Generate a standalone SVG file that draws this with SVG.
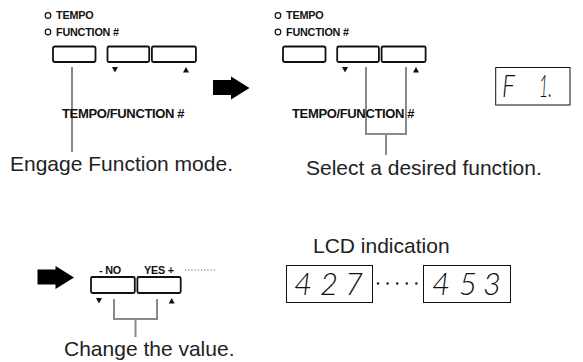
<svg xmlns="http://www.w3.org/2000/svg" width="583" height="362" viewBox="0 0 583 362">
<style>
.lbl{font-family:"Liberation Sans",Arial,sans-serif;font-weight:bold;font-size:10.8px;fill:#111;letter-spacing:-0.2px}
.big{font-family:"Liberation Sans",Arial,sans-serif;font-weight:bold;font-size:13px;fill:#111;letter-spacing:-0.35px}
.cap{font-family:"Liberation Sans",Arial,sans-serif;font-size:21px;fill:#222}
.btn{fill:#fff;stroke:#111;stroke-width:1.8}
.led{fill:#fff;stroke:#111;stroke-width:1.2}
.lcd{fill:#fff;stroke:#111;stroke-width:1}
.seg{font-family:Lato,"Liberation Sans",sans-serif;font-style:italic;font-weight:300;font-size:31px;fill:#111}
.conn{fill:none;stroke:#8a8a8a;stroke-width:2}
.tri{fill:#111}
.arrow{fill:#000}
.dots{fill:none;stroke:#222;stroke-linecap:round}
</style>
<defs>
<path id="bigArrow" d="M0,3.5 H18 V0 L36.5,11.5 L18,23 V18.5 H0 Z"/>
</defs>

<g id="connectors">
  <path class="conn" d="M72,67 V152"/>
  <path class="conn" d="M366,67 V134 H406 V67 M386,134 V155"/>
  <path class="conn" d="M114,299 V319 H157 V299 M135.5,319 V337"/>
  <use href="#bigArrow" class="arrow" x="213" y="76.5"/>
  <use href="#bigArrow" class="arrow" x="37.5" y="266"/>
</g>

<g id="step1-panel">
  <circle class="led" cx="48" cy="15.5" r="2.8"/>
  <text class="lbl" x="56" y="19">TEMPO</text>
  <circle class="led" cx="48" cy="32" r="2.8"/>
  <text class="lbl" x="56" y="35.5">FUNCTION #</text>
  <rect class="btn" x="53" y="46.5" width="42.5" height="15.5" rx="2"/>
  <rect class="btn" x="107.5" y="46.5" width="41.7" height="15.5" rx="1.5"/>
  <rect class="btn" x="151.9" y="46.5" width="44" height="15.5" rx="1.5"/>
  <polygon class="tri" points="112,67 118,67 115,72.5"/>
  <polygon class="tri" points="183,72.5 189,72.5 186,67"/>
  <text class="big" x="62" y="118">TEMPO/FUNCTION #</text>
  <text class="cap" x="10" y="171">Engage Function mode.</text>
</g>

<g id="step2-panel">
  <circle class="led" cx="278" cy="15.5" r="2.8"/>
  <text class="lbl" x="286" y="19">TEMPO</text>
  <circle class="led" cx="278" cy="32" r="2.8"/>
  <text class="lbl" x="286" y="35.5">FUNCTION #</text>
  <rect class="btn" x="283" y="46.5" width="42.5" height="15.5" rx="2"/>
  <rect class="btn" x="337.2" y="46.5" width="41.7" height="15.5" rx="1.5"/>
  <rect class="btn" x="381.6" y="46.5" width="44" height="15.5" rx="1.5"/>
  <polygon class="tri" points="342,67 348,67 345,72.5"/>
  <polygon class="tri" points="413,72.5 419,72.5 416,67"/>
  <text class="big" x="292" y="118">TEMPO/FUNCTION #</text>
  <text class="cap" x="306" y="175">Select a desired function.</text>
</g>

<g id="lcd-f1">
  <rect class="lcd" x="495.7" y="67.5" width="74.3" height="37.5"/>
  <text class="seg" x="502" y="97" textLength="13" lengthAdjust="spacingAndGlyphs">F</text>
  <text class="seg" x="539" y="97" textLength="13" lengthAdjust="spacingAndGlyphs">1.</text>
</g>

<g id="step3-panel">
  <text class="lbl" x="99" y="273.5">- NO</text>
  <text class="lbl" x="144" y="273.5">YES +</text>
  <line class="dots" x1="185.5" y1="270" x2="215" y2="270" stroke-width="0.9" stroke-dasharray="0.1 3.1"/>
  <rect class="btn" x="91" y="277" width="43.8" height="16" rx="1.5"/>
  <rect class="btn" x="137.4" y="277" width="43.3" height="16" rx="1.5"/>
  <polygon class="tri" points="96,298 102,298 99,303.5"/>
  <polygon class="tri" points="168.7,303.5 174.7,303.5 171.7,298"/>
  <text class="cap" x="64" y="356">Change the value.</text>
</g>

<g id="lcd-values">
  <text class="cap" x="313" y="253">LCD indication</text>
  <rect class="lcd" x="286.5" y="265.5" width="86" height="37"/>
  <text class="seg" x="294" y="295">4</text>
  <text class="seg" x="320" y="295">2</text>
  <text class="seg" x="345" y="295">7</text>
  <line class="dots" x1="378" y1="283.5" x2="417" y2="283.5" stroke-width="2.6" stroke-dasharray="0 9.6"/>
  <rect class="lcd" x="423.5" y="265.5" width="87" height="37"/>
  <text class="seg" x="432" y="295">4</text>
  <text class="seg" x="459" y="295">5</text>
  <text class="seg" x="483" y="295">3</text>
</g>
</svg>
